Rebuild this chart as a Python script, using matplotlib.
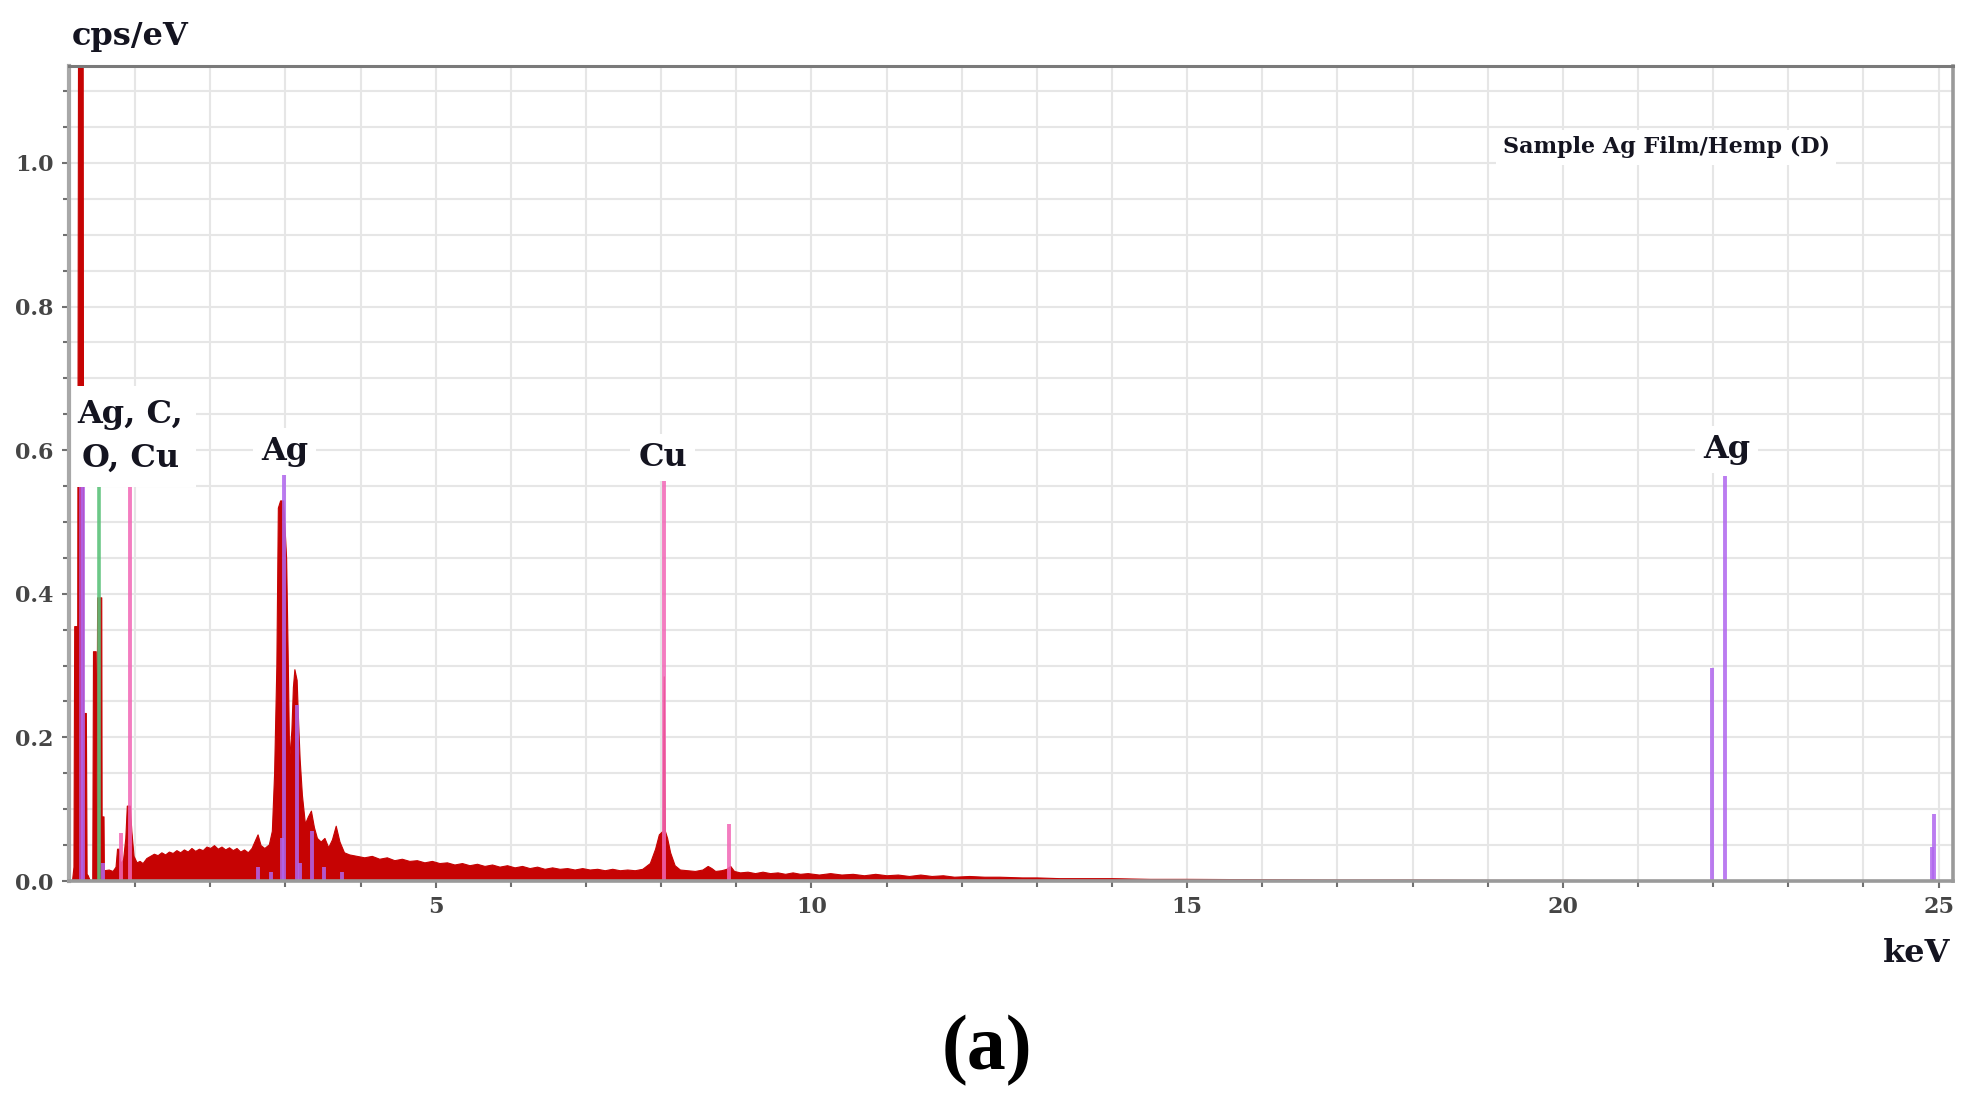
import matplotlib
matplotlib.use("Agg")
import matplotlib.pyplot as plt
from matplotlib.ticker import MultipleLocator, FormatStrFormatter

# spectrum (keV, cps/eV)
energy_kev = [0.12, 0.16, 0.18, 0.19, 0.23, 0.245, 0.30, 0.31, 0.345, 0.355, 0.37, 0.40,
              0.43, 0.44, 0.475, 0.485, 0.495, 0.55, 0.555, 0.58, 0.585, 0.65, 0.70, 0.74,
              0.76, 0.78, 0.80, 0.84, 0.87, 0.89, 0.93, 0.95, 0.98, 1.02, 1.06, 1.10, 1.15,
              1.20, 1.25, 1.30, 1.35, 1.40, 1.45, 1.50, 1.55, 1.60, 1.65, 1.70, 1.75, 1.80,
              1.85, 1.90, 1.95, 2.00, 2.05, 2.10, 2.15, 2.20, 2.25, 2.30, 2.35, 2.40, 2.45,
              2.50, 2.55, 2.60, 2.63, 2.67, 2.72, 2.78, 2.82, 2.85, 2.88, 2.90, 2.93, 2.97,
              2.99, 3.01, 3.03, 3.05, 3.08, 3.10, 3.12, 3.15, 3.17, 3.19, 3.22, 3.26, 3.30,
              3.34, 3.38, 3.42, 3.47, 3.52, 3.57, 3.62, 3.67, 3.72, 3.78, 3.85, 3.95, 4.05,
              4.15, 4.25, 4.35, 4.45, 4.55, 4.65, 4.75, 4.85, 4.95, 5.05, 5.15, 5.25, 5.35,
              5.45, 5.55, 5.65, 5.75, 5.85, 5.95, 6.05, 6.15, 6.25, 6.35, 6.45, 6.55, 6.65,
              6.75, 6.85, 6.95, 7.05, 7.15, 7.25, 7.35, 7.45, 7.55, 7.65, 7.75, 7.85, 7.92,
              7.97, 8.02, 8.035, 8.05, 8.08, 8.12, 8.18, 8.25, 8.35, 8.45, 8.55, 8.62, 8.67,
              8.72, 8.80, 8.87, 8.92, 8.97, 9.05, 9.15, 9.25, 9.35, 9.45, 9.55, 9.65, 9.75,
              9.85, 9.95, 10.1, 10.25, 10.4, 10.55, 10.7, 10.85, 11.0, 11.15, 11.3, 11.45,
              11.6, 11.75, 11.9, 12.1, 12.3, 12.5, 12.8, 13.0, 13.3, 13.6, 14.0, 14.5,
              15.0, 16.0, 17.0, 18.0, 19.0, 20.0, 21.0, 22.0, 23.0, 24.0, 25.2]
cps = [0.0, 0.0, 0.02, 0.355, 0.355, 1.5, 1.5, 0.234, 0.234, 0.01, 0.008, 0.0,
       0.0, 0.32, 0.32, 0.10, 0.395, 0.395, 0.09, 0.09, 0.015, 0.016, 0.014, 0.02,
       0.045, 0.045, 0.025, 0.03, 0.06, 0.105, 0.105, 0.07, 0.035, 0.026, 0.028, 0.025, 0.032,
       0.035, 0.038, 0.036, 0.040, 0.037, 0.041, 0.039, 0.043, 0.040, 0.044, 0.041, 0.046, 0.042,
       0.045, 0.043, 0.048, 0.046, 0.050, 0.045, 0.048, 0.044, 0.047, 0.043, 0.046, 0.041, 0.044,
       0.040, 0.046, 0.058, 0.065, 0.050, 0.046, 0.051, 0.070, 0.15, 0.30, 0.52, 0.53, 0.53,
       0.49, 0.45, 0.32, 0.17, 0.21, 0.27, 0.295, 0.28, 0.22, 0.17, 0.12, 0.08, 0.09,
       0.098, 0.075, 0.06, 0.055, 0.06, 0.047, 0.058, 0.077, 0.055, 0.04, 0.037, 0.035, 0.033,
       0.035, 0.031, 0.033, 0.029, 0.031, 0.028, 0.029, 0.026, 0.028, 0.025, 0.026, 0.023, 0.025,
       0.022, 0.024, 0.021, 0.023, 0.020, 0.022, 0.019, 0.021, 0.018, 0.020, 0.017, 0.019, 0.017,
       0.018, 0.016, 0.018, 0.016, 0.017, 0.015, 0.017, 0.015, 0.016, 0.015, 0.017, 0.025, 0.045,
       0.065, 0.07, 0.285, 0.07, 0.06, 0.04, 0.022, 0.016, 0.015, 0.014, 0.016, 0.021, 0.018,
       0.014, 0.015, 0.017, 0.021, 0.014, 0.012, 0.013, 0.011, 0.013, 0.011, 0.012, 0.010, 0.012,
       0.010, 0.011, 0.009, 0.011, 0.009, 0.010, 0.008, 0.010, 0.008, 0.009, 0.007, 0.009,
       0.007, 0.008, 0.006, 0.007, 0.006, 0.006, 0.005, 0.005, 0.004, 0.004, 0.004, 0.003,
       0.003, 0.0025, 0.002, 0.002, 0.0015, 0.0015, 0.001, 0.001, 0.0008, 0.0005, 0.0]

# element marker lines (KLM markers)
ag_lines = [0.31, 0.57, 2.63, 2.81, 2.95, 2.98, 3.15, 3.20, 3.35, 3.52, 3.75,
            21.99, 22.16, 24.91, 24.94]
ag_heights = [0.55, 0.025, 0.02, 0.012, 0.06, 0.565, 0.245, 0.025, 0.07, 0.02, 0.012,
              0.297, 0.564, 0.047, 0.093]
cu_lines = [0.81, 0.93, 8.04, 8.90]
cu_heights = [0.067, 0.55, 0.557, 0.08]
o_lines = [0.525]
o_heights = [0.55]
c_lines = [0.277]
c_heights = [0.55]

x_major = [5, 10, 15, 20, 25]

fig = plt.figure(figsize=(19.7, 11.05), dpi=100)
ax = fig.add_axes([0.035, 0.2027, 0.9563, 0.7376])

ax.fill_between(energy_kev, cps, 0, color='#c60303', linewidth=0.8, zorder=2)

ax.vlines(c_lines, 0, c_heights, color='#c048b8', linewidth=2.8, alpha=0.9, zorder=3)
ax.vlines(ag_lines, 0, ag_heights, color='#b066ee', linewidth=2.8, alpha=0.85, zorder=3)
ax.vlines(o_lines, 0, o_heights, color='#5cc27a', linewidth=2.6, alpha=0.9, zorder=3)
ax.vlines(cu_lines, 0, cu_heights, color='#f266b5', linewidth=2.8, alpha=0.85, zorder=3)

ax.set_xlim(0.12, 25.19)
ax.set_ylim(0, 1.135)

ax.set_xticks(x_major)
ax.xaxis.set_minor_locator(MultipleLocator(1))
ax.yaxis.set_major_locator(MultipleLocator(0.2))
ax.yaxis.set_minor_locator(MultipleLocator(0.05))
ax.yaxis.set_major_formatter(FormatStrFormatter('%.1f'))

ax.grid(which='both', color='#e6e6e6', linewidth=1.5, zorder=0)
ax.set_axisbelow(True)

for lab in ax.get_xticklabels() + ax.get_yticklabels():
    lab.set_fontfamily('DejaVu Serif')
    lab.set_fontweight('bold')
    lab.set_fontsize(16)
    lab.set_color('#454545')
ax.tick_params(which='both', direction='out', color='#707070', width=1.5)
ax.tick_params(which='major', length=5, pad=6)
ax.tick_params(which='minor', length=4)

for side, col, lw in [('top', '#7a7a7a', 2.2), ('left', '#a8a8a8', 3),
                      ('bottom', '#9a9a9a', 2.6), ('right', '#9a9a9a', 2.6)]:
    ax.spines[side].set_color(col)
    ax.spines[side].set_linewidth(lw)
    ax.spines[side].set_zorder(6)

lab_font = dict(family='DejaVu Serif', weight='bold', size=23, color='#141420')
box = dict(boxstyle='square,pad=0.25', fc='white', ec='none')

ax.text(0.94, 0.619, 'Ag, C,\nO, Cu', ha='center', va='center', linespacing=1.55,
        bbox=dict(boxstyle='square,pad=0.4', fc='white', ec='none'), zorder=5,
        clip_on=True, **lab_font)
ax.text(2.99, 0.598, 'Ag', ha='center', va='center', bbox=box, zorder=5, **lab_font)
ax.text(8.02, 0.59, 'Cu', ha='center', va='center', bbox=box, zorder=5, **lab_font)
ax.text(22.18, 0.601, 'Ag', ha='center', va='center', bbox=box, zorder=5, **lab_font)
ax.text(19.2, 1.0216, 'Sample Ag Film/Hemp (D)', ha='left', va='center',
        family='DejaVu Serif', weight='bold', size=16, color='#141420',
        bbox=dict(boxstyle='square,pad=0.3', fc='white', ec='none'), zorder=5)

fig.text(72 / 1970, 1 - 45 / 1105, 'cps/eV', ha='left', va='baseline',
         family='DejaVu Serif', weight='bold', size=23, color='#141420')
fig.text(1950 / 1970, 1 - 962 / 1105, 'keV', ha='right', va='baseline',
         family='DejaVu Serif', weight='bold', size=23, color='#141420')
fig.text(987 / 1970, 1 - 1051 / 1105, '(a)', ha='center', va='center',
         family='Liberation Serif', weight='bold', size=56, color='black')

fig.savefig('out.png', dpi=100)
